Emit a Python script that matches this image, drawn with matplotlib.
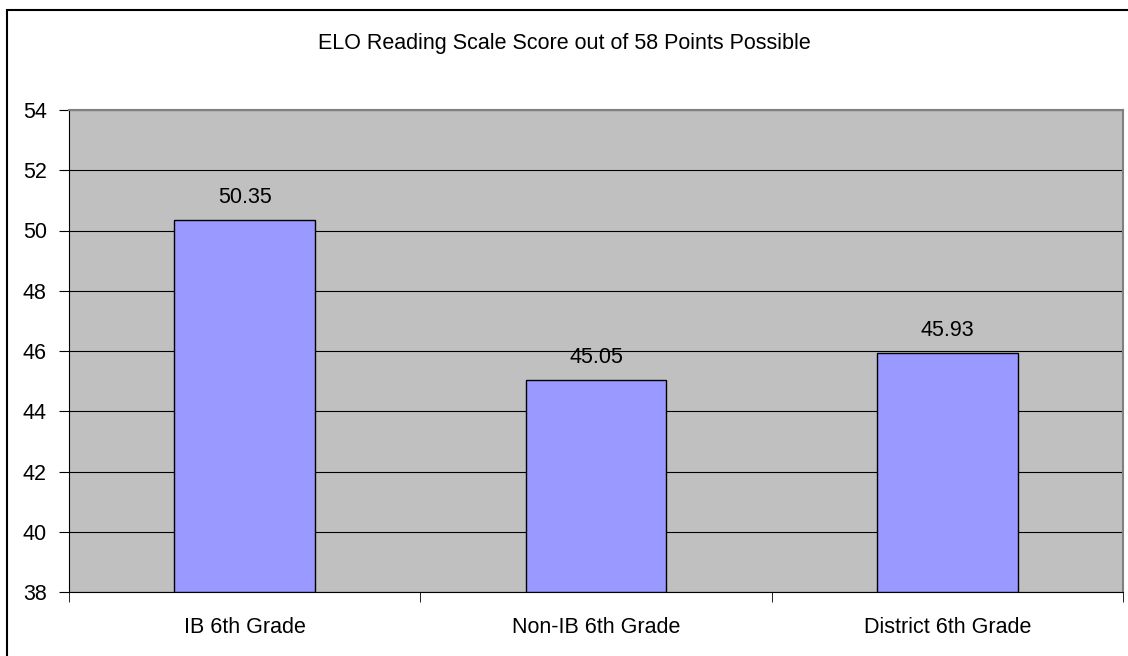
import matplotlib
matplotlib.use("Agg")
from matplotlib import pyplot as plt
from matplotlib.patches import Rectangle

categories = ["IB 6th Grade", "Non-IB 6th Grade", "District 6th Grade"]
scores = [50.35, 45.05, 45.93]
yticks = [38, 40, 42, 44, 46, 48, 50, 52, 54]

plt.rcParams['font.family'] = ['Liberation Sans', 'DejaVu Sans']
fs = 15.5

fig = plt.figure(figsize=(11.28, 6.56), dpi=100)
ax = fig.add_axes([69 / 1128, 1 - 592 / 656, (1123 - 69) / 1128, (592 - 110) / 656])
ax.set_facecolor('#C0C0C0')

# outer chart border
fig.patches.append(Rectangle((7 / 1128, -0.05), 1.1, 1 - 10 / 656 + 0.05,
                             transform=fig.transFigure, fill=False,
                             edgecolor='black', linewidth=1.5, clip_on=False))

x = range(len(categories))
bars = ax.bar(x, [s - 38 for s in scores], bottom=38, width=0.4,
              color='#9999FF', edgecolor='black', linewidth=1, zorder=3)
for xi, s in zip(x, scores):
    ax.text(xi, s + 0.4, "%.2f" % s, ha='center', va='bottom', fontsize=fs)

ax.set_ylim(38, 54)
ax.set_xlim(-0.5, 2.5)
ax.set_yticks(yticks)
ax.set_yticklabels([str(t) for t in yticks], fontsize=fs)
ax.yaxis.grid(True, color='black', linewidth=0.8, zorder=1)
ax.set_axisbelow(True)

ax.set_xticks([0, 1, 2])
ax.set_xticklabels(categories, fontsize=fs)
ax.tick_params(axis='x', which='major', length=0, pad=18)
ax.set_xticks([-0.5, 0.5, 1.5, 2.5], minor=True)
ax.tick_params(axis='x', which='minor', length=7, direction='out', color='black')
ax.tick_params(axis='y', length=7, direction='out', color='black', pad=9)

for side in ['left', 'bottom']:
    ax.spines[side].set_color('black')
for side in ['top', 'right']:
    ax.spines[side].set_color('#808080')
    ax.spines[side].set_linewidth(1.5)

fig.text(0.5, 1 - 43 / 656, "ELO Reading Scale Score out of 58 Points Possible",
         ha='center', va='center', fontsize=fs)

plt.savefig('out.png', dpi=100)
